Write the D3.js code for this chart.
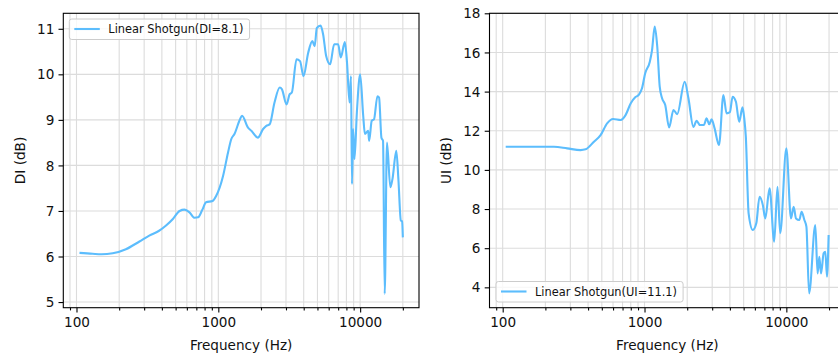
<!DOCTYPE html>
<html>
<head>
<meta charset="utf-8">
<script src="https://cdn.jsdelivr.net/npm/d3@7"></script>
<style>
  html, body { margin: 0; padding: 0; background: #fff; }
  svg { display: block; font-family: "DejaVu Sans", sans-serif; }
</style>
</head>
<body>
<svg id="chart" width="838" height="354"></svg>
<script>
// ---------- data ----------
const diFreq = [105,130,150,180,223,278,326,380,428,480,533,578,626,680,720,770,820,910,965,1080,1170,1235,1300,1420,1470,1620,1710,1900,2070,2180,2300,2490,2710,2810,3030,3180,3300,3560,3770,3985,4300,4600,4780,4950,5260,5480,5760,6140,6560,7000,7300,7800,8080,8420,8620,8760,8920,9120,9480,10000,10510,10800,11390,11580,12070,12520,13240,13600,14130,14500,14900,15460,16330,16900,17990,18630,19360,19760,20000];
const diValues = [6.08,6.06,6.05,6.07,6.16,6.33,6.46,6.56,6.68,6.83,7.00,7.03,6.97,6.85,6.86,7.02,7.19,7.22,7.33,7.77,8.28,8.58,8.69,9.01,9.09,8.83,8.76,8.61,8.80,8.87,8.90,9.38,9.71,9.67,9.34,9.56,9.60,10.33,10.29,9.96,10.47,10.73,10.62,11.02,11.07,10.88,10.40,10.22,10.66,10.66,10.37,10.71,10.26,9.38,9.96,7.59,8.80,8.14,9.16,10.00,9.09,8.69,8.76,8.54,8.98,9.01,9.52,9.49,8.61,8.54,5.18,8.50,7.52,7.70,8.32,7.67,6.79,6.77,6.42];

const uiFreq = [105,230,285,354,384,440,490,545,600,680,735,800,860,910,960,1010,1090,1130,1180,1230,1280,1330,1400,1490,1600,1700,1920,2040,2210,2330,2460,2620,2740,2860,2970,3120,3350,3600,3790,4000,4180,4410,4650,4910,5050,5180,5420,5800,6140,6470,6830,7100,7620,8210,8660,9050,10000,10780,11260,11700,12340,12810,13400,13850,14470,16000,16610,17080,17560,18330,18830,19350,19870];
const uiValues = [11.18,11.18,11.10,11.01,11.05,11.44,11.78,12.38,12.60,12.55,12.80,13.40,13.71,13.83,14.17,14.93,15.53,16.12,17.32,16.29,14.25,13.66,13.31,12.17,13.06,12.85,14.50,13.66,12.20,12.51,12.29,12.29,12.63,12.33,12.58,12.12,11.27,13.83,12.89,12.95,13.74,13.48,12.46,13.20,12.63,11.70,7.78,6.93,7.27,8.63,8.20,7.52,9.06,6.33,9.14,6.76,11.10,7.52,8.12,7.52,7.44,7.86,7.44,7.10,3.69,7.18,4.71,5.56,4.71,5.74,5.82,4.54,6.67];

const xMajorTicks = [100, 1000, 10000];
const diTicks = [5, 6, 7, 8, 9, 10, 11];
const uiTicks = [4, 6, 8, 10, 12, 14, 16, 18];
const diLegend = "Linear Shotgun(DI=8.1)";
const uiLegend = "Linear Shotgun(UI=11.1)";
const xLabel = "Frequency (Hz)";

// ---------- drawing ----------
const svg = d3.select("#chart");
const lineColor = "#5cbdfd";
const gridColor = "#dcdcdc";
const fs = 13.6;

function minorTicks(lo, hi) {
  const out = [];
  for (let d = 10; d <= 100000; d *= 10)
    for (let m = 2; m <= 9; m++) {
      const v = d * m;
      if (v >= lo && v <= hi) out.push(v);
    }
  return out;
}

function panel(opts) {
  const { left, top, width, height, yDomain, yTicks, freq, vals, yLabel, yLabelX, legend, legendPos } = opts;
  const g = svg.append("g");
  const x = d3.scaleLog().domain([Math.pow(10, 1.907), Math.pow(10, 4.415)]).range([left, left + width]);
  const y = d3.scaleLinear().domain(yDomain).range([top + height, top]);
  const [xlo, xhi] = x.domain();
  const minors = minorTicks(xlo, xhi);
  const majors = xMajorTicks.filter(v => v >= xlo && v <= xhi);

  // grid
  const grid = g.append("g");
  grid.selectAll(".gx").data(majors.concat(minors)).join("line")
    .attr("x1", d => x(d)).attr("x2", d => x(d))
    .attr("y1", top).attr("y2", top + height)
    .attr("stroke", gridColor).attr("stroke-width", 1.1);
  grid.selectAll(".gy").data(yTicks).join("line")
    .attr("x1", left).attr("x2", left + width)
    .attr("y1", d => y(d)).attr("y2", d => y(d))
    .attr("stroke", gridColor).attr("stroke-width", 1.1);

  // data line
  const line = d3.line().x((d, i) => x(freq[i])).y(d => y(d)).curve(d3.curveMonotoneX);
  g.append("path").datum(vals).attr("d", line)
    .attr("fill", "none").attr("stroke", lineColor).attr("stroke-width", 2.1)
    .attr("stroke-linejoin", "round").attr("stroke-linecap", "butt");

  // axes
  const xAxis = d3.axisBottom(x).tickValues(majors).tickFormat(d3.format("d"))
    .tickSize(4.8).tickPadding(4.2);
  const gx = g.append("g").attr("transform", `translate(0,${top + height})`).call(xAxis);
  const xMinorAxis = d3.axisBottom(x).tickValues(minors).tickFormat("").tickSize(2.7);
  const gxm = g.append("g").attr("transform", `translate(0,${top + height})`).call(xMinorAxis);
  gxm.select(".domain").remove();
  const yAxis = d3.axisLeft(y).tickValues(yTicks).tickFormat(d3.format("d"))
    .tickSize(4.8).tickPadding(4.2);
  const gy = g.append("g").attr("transform", `translate(${left},0)`).call(yAxis);
  [gx, gy, gxm].forEach(a => {
    a.selectAll("text").attr("font-size", fs).attr("font-family", "DejaVu Sans").attr("fill", "#111");
    a.selectAll("line").attr("stroke", "#000").attr("stroke-width", 1.1);
    a.select(".domain").remove();
  });
  gy.selectAll("text").attr("dy", "0.34em");
  gx.selectAll("text").attr("dy", "0.74em");

  // frame
  g.append("rect").attr("x", left).attr("y", top).attr("width", width).attr("height", height)
    .attr("fill", "none").attr("stroke", "#000").attr("stroke-width", 1.1);

  // labels
  g.append("text").attr("x", left + width / 2).attr("y", 349.5)
    .attr("text-anchor", "middle").attr("font-size", fs).attr("fill", "#111").text(xLabel);
  g.append("text").attr("transform", `translate(${yLabelX},${top + height / 2}) rotate(-90)`)
    .attr("text-anchor", "middle").attr("dy", "0.35em").attr("font-size", fs).attr("fill", "#111").text(yLabel);

  // legend
  const lg = g.append("g");
  const lfs = 11.4;
  const txt = lg.append("text").attr("x", legendPos.x + 39).attr("y", legendPos.y + 10)
    .attr("dy", "0.36em").attr("font-size", lfs).attr("fill", "#111").text(legend);
  const tw = txt.node().getComputedTextLength();
  lg.insert("rect", "text").attr("x", legendPos.x).attr("y", legendPos.y)
    .attr("width", tw + 39 + 6).attr("height", 20.5).attr("rx", 2.5)
    .attr("fill", "#fff").attr("fill-opacity", 0.8).attr("stroke", "#cccccc").attr("stroke-width", 1);
  lg.insert("line", "text").attr("x1", legendPos.x + 5).attr("x2", legendPos.x + 30.5)
    .attr("y1", legendPos.y + 10).attr("y2", legendPos.y + 10)
    .attr("stroke", lineColor).attr("stroke-width", 2.1);
}

panel({ left: 63.3, top: 13.3, width: 355.7, height: 294.4, yDomain: [4.876, 11.34], yTicks: diTicks,
  freq: diFreq, vals: diValues, yLabel: "DI (dB)", yLabelX: 20, legend: diLegend, legendPos: { x: 69.3, y: 19 } });
panel({ left: 489.5, top: 13.3, width: 355.7, height: 294.4, yDomain: [2.96, 18.0], yTicks: uiTicks,
  freq: uiFreq, vals: uiValues, yLabel: "UI (dB)", yLabelX: 446.5, legend: uiLegend, legendPos: { x: 496, y: 281.5 } });
</script>
</body>
</html>
